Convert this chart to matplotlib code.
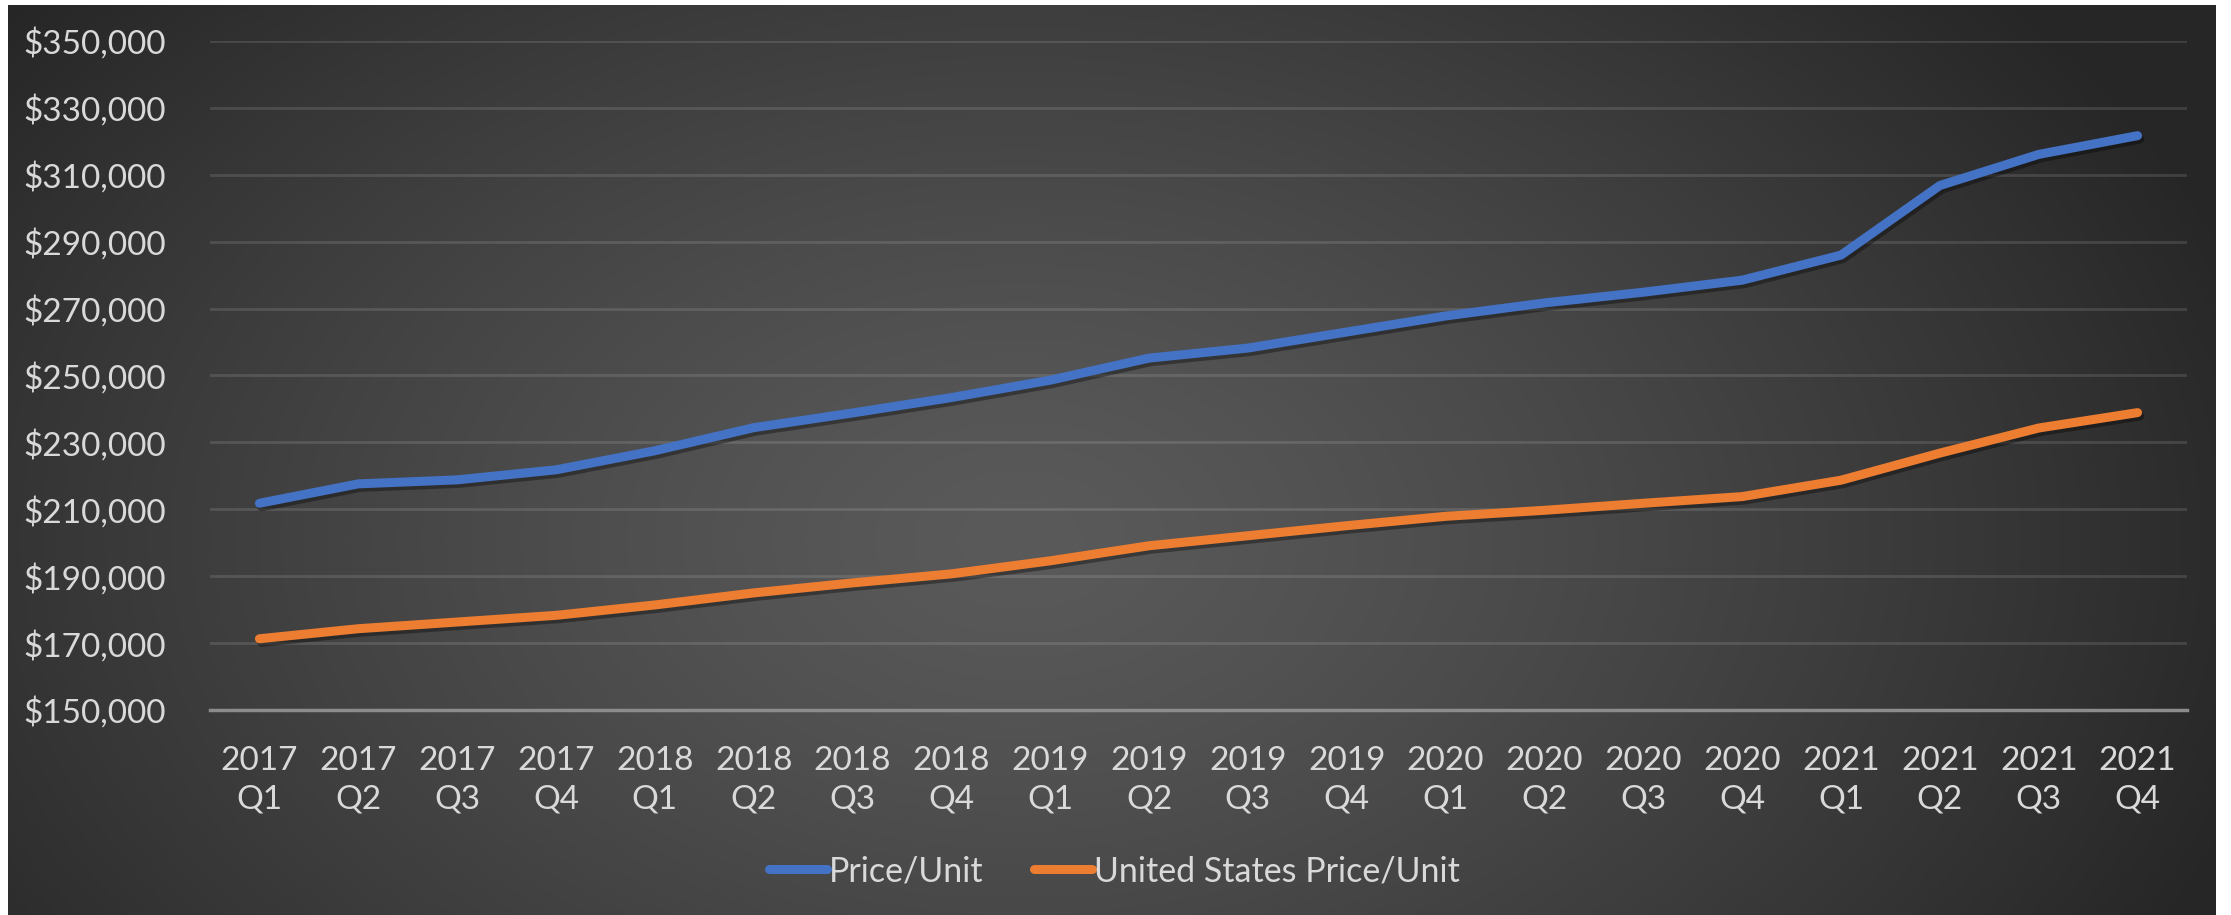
import numpy as np
import matplotlib
matplotlib.use("Agg")
import matplotlib.pyplot as plt
import matplotlib.patheffects as pe
from matplotlib.ticker import FuncFormatter

plt.rcParams['font.family'] = ['Lato', 'DejaVu Sans']

# quarterly labels
years = ['2017'] * 4 + ['2018'] * 4 + ['2019'] * 4 + ['2020'] * 4 + ['2021'] * 4
quarters = ['Q1', 'Q2', 'Q3', 'Q4'] * 5
labels = [y + '\n' + q for y, q in zip(years, quarters)]

# median price per unit
price_unit = [211800, 217600, 218800, 221800, 227500, 234400, 238800, 243400,
              248600, 255200, 258200, 263000, 267800, 271700, 274900, 278500,
              286000, 306800, 316100, 321700]
us_price_unit = [171300, 174300, 176300, 178300, 181400, 185000, 188000, 190700,
                 194600, 199100, 202100, 205100, 207900, 209700, 211800, 213800,
                 218700, 226800, 234300, 238900]

W, H = 2231, 915
fig = plt.figure(figsize=(W / 100, H / 100), dpi=100, facecolor='white')

# dark radial-gradient panel behind the chart
bg = fig.add_axes([8 / W, 0, 2208 / W, 910 / H])
gx, gy = np.meshgrid(np.linspace(8, 2216, 600), np.linspace(5, 915, 300))
r = np.sqrt(((gx - 1020) / 1300) ** 2 + ((gy - 540) / 850) ** 2)
f = np.clip(1 - r ** 1.3, 0, 1)
shade = (0x26 + (0x5a - 0x26) * f) / 255
bg.imshow(np.dstack([shade, shade, shade]), aspect='auto', interpolation='bilinear')
bg.axis('off')

ax = fig.add_axes([210 / W, 1 - 710 / H, (2187 - 210) / W, (710 - 41) / H])
ax.set_facecolor('none')

x = np.arange(len(labels))
shadow = [pe.SimpleLineShadow(offset=(1.5, -2.5), shadow_color='black', alpha=0.35), pe.Normal()]
ax.plot(x, price_unit, color='#4472C4', lw=6.5, solid_capstyle='round',
        solid_joinstyle='round', label='Price/Unit', path_effects=shadow, zorder=3)
ax.plot(x, us_price_unit, color='#ED7D31', lw=6.5, solid_capstyle='round',
        solid_joinstyle='round', label='United States Price/Unit', path_effects=shadow, zorder=3)

ax.set_xlim(-0.5, len(labels) - 0.5)
ax.set_ylim(150000, 350000)
ax.set_yticks(np.arange(150000, 350001, 20000))
ax.yaxis.set_major_formatter(FuncFormatter(lambda v, p: '${:,.0f}'.format(v)))
ax.set_xticks(x)
ax.set_xticklabels(labels, linespacing=1.35)

ax.grid(axis='y', color='white', alpha=0.12, lw=2)
ax.set_axisbelow(True)
for s in ['top', 'right', 'left']:
    ax.spines[s].set_visible(False)
ax.spines['bottom'].set_color('#8c8c8c')
ax.spines['bottom'].set_linewidth(2.5)

ax.tick_params(axis='both', length=0, labelsize=24, labelcolor='#d9d9d9')
ax.tick_params(axis='y', pad=32)
ax.tick_params(axis='x', pad=26)

leg = fig.legend(loc='center', bbox_to_anchor=(0.4995, 0.048), ncol=2, frameon=False,
                 fontsize=24.5, handlelength=1.7, handletextpad=0.05, columnspacing=1.5)
for t in leg.get_texts():
    t.set_color('#d9d9d9')
for h in leg.get_lines():
    h.set_path_effects([])

fig.savefig('out.png', dpi=100, facecolor='white')
